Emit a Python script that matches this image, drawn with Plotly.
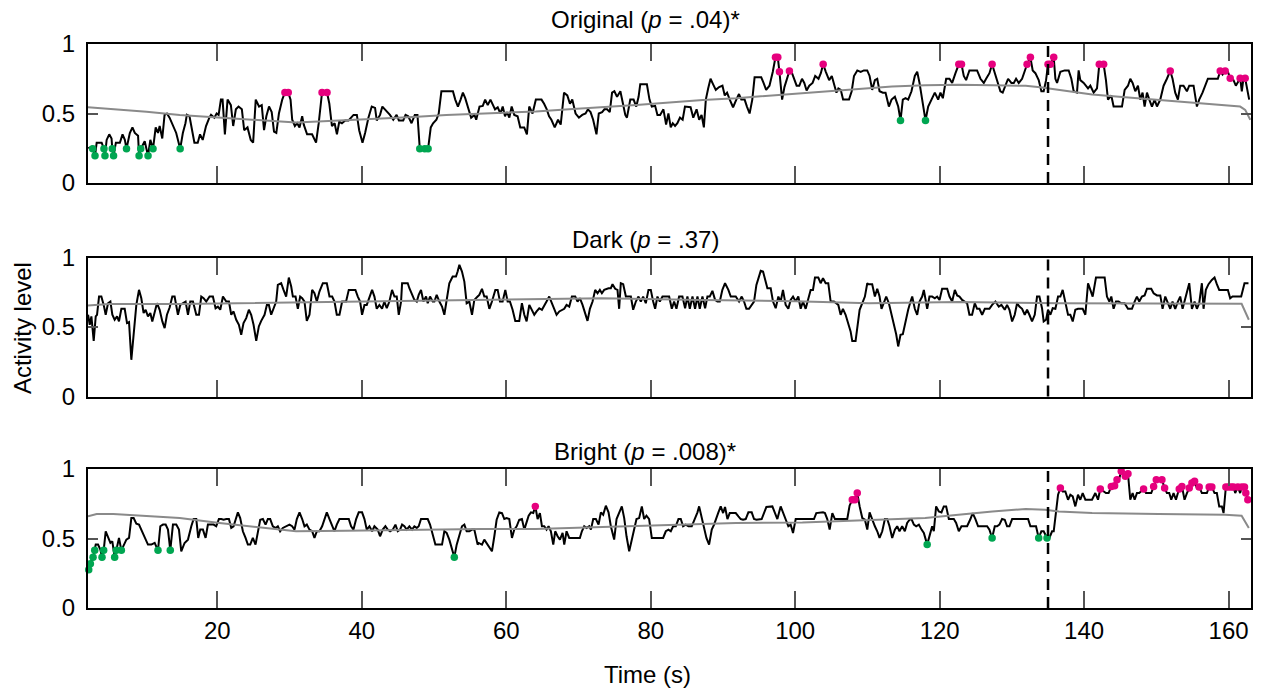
import plotly.graph_objects as go

FONT = "Liberation Sans, Arial, Helvetica, sans-serif"
TRACE_COLOR = "#000000"
TREND_COLOR = "#8a8a8a"
HIGH_COLOR = "#e6007e"
LOW_COLOR = "#00a651"

switch_time = 135
x_ticks = [20, 40, 60, 80, 100, 120, 140, 160]
y_ticks = [0, 0.5, 1]
y_tick_text = ["0", "0.5", "1"]

# ---------------- Original ----------------
orig_t = [2.15, 2.61, 2.75, 3.07, 3.30, 3.99, 4.31, 4.45, 4.68, 5.04, 5.36, 5.46, 5.64, 5.96, 6.51, 6.88, 7.20, 7.43, 7.89, 8.25,
          8.58, 9.03, 9.17, 9.40, 9.95, 10.41, 10.73, 11.10, 11.47, 11.79, 12.02, 12.38, 12.70, 13.03, 13.39, 13.85, 14.31, 14.86, 15.23, 15.59,
          15.78, 16.15, 16.60, 16.83, 17.29, 17.61, 17.98, 18.44, 18.90, 19.13, 19.59, 19.91, 20.18, 20.50, 20.73, 21.05, 21.42, 21.88, 22.20, 22.57,
          22.94, 23.40, 23.72, 24.18, 24.63, 24.96, 25.32, 25.78, 26.15, 26.47, 26.79, 27.16, 27.53, 27.85, 28.17, 28.53, 28.99, 29.36, 29.82, 30.14,
          30.37, 30.74, 31.06, 31.38, 31.75, 31.97, 32.43, 33.12, 33.67, 34.04, 34.50, 35.19, 35.51, 35.87, 36.24, 36.56, 36.88, 37.25, 37.71, 38.17,
          38.86, 39.32, 39.64, 40.10, 40.46, 40.92, 41.38, 41.84, 42.07, 42.53, 42.85, 43.22, 43.68, 43.90, 44.36, 44.82, 45.14, 45.74, 46.06, 46.43,
          46.89, 47.34, 47.71, 48.03, 48.72, 49.18, 49.55, 49.87, 50.33, 50.65, 51.02, 51.47, 52.16, 52.62, 52.94, 53.31, 53.68, 54.00, 54.32, 54.69,
          55.14, 55.60, 55.84, 56.30, 56.75, 57.08, 57.44, 57.81, 58.13, 58.45, 58.82, 59.19, 59.51, 59.83, 60.10, 60.43, 60.75, 61.11, 61.57, 61.94,
          62.49, 62.86, 63.18, 63.64, 64.10, 64.55, 64.88, 65.24, 65.61, 65.93, 66.25, 66.71, 67.17, 67.54, 68.00, 68.45, 68.82, 69.14, 69.60, 70.06,
          70.52, 70.98, 71.30, 71.67, 72.03, 72.49, 72.81, 73.27, 73.59, 73.96, 74.33, 74.65, 74.97, 75.34, 75.80, 76.16, 76.48, 76.71, 77.17, 77.63,
          78.00, 78.32, 78.55, 79.01, 79.47, 79.83, 80.15, 80.61, 80.93, 81.30, 81.76, 82.13, 82.45, 82.77, 83.05, 83.37, 83.69, 84.05, 84.42, 84.74,
          85.06, 85.52, 85.89, 86.35, 86.71, 87.04, 87.36, 87.63, 87.95, 88.28, 88.64, 89.01, 89.47, 89.93, 90.25, 90.57, 90.94, 91.40, 91.85, 92.22,
          92.54, 93.00, 93.32, 93.69, 94.06, 94.38, 94.84, 95.30, 95.62, 95.98, 96.44, 96.90, 97.27, 97.59, 97.82, 98.19, 98.51, 98.83, 99.20, 99.56,
          99.88, 100.20, 100.57, 100.94, 101.26, 101.58, 101.95, 102.41, 102.77, 103.23, 103.55, 103.87, 104.24, 104.70, 105.07, 105.39, 105.71, 105.98, 106.31, 106.63,
          107.00, 107.45, 107.82, 108.14, 108.60, 109.06, 109.51, 109.97, 110.30, 110.66, 111.03, 111.36, 111.68, 112.14, 112.51, 112.97, 113.34, 113.80, 114.26, 114.58,
          114.90, 115.27, 115.64, 116.10, 116.56, 116.89, 117.21, 117.58, 118.04, 118.41, 118.87, 119.33, 119.79, 120.11, 120.44, 120.90, 121.36, 121.73, 122.19, 122.65,
          123.02, 123.34, 123.66, 124.12, 124.72, 125.18, 125.65, 126.11, 126.43, 126.89, 127.26, 127.63, 128.09, 128.41, 128.73, 129.10, 129.47, 129.93, 130.26, 130.58,
          130.95, 131.41, 131.73, 132.10, 132.56, 132.88, 133.25, 133.71, 134.08, 134.40, 134.73, 135.00, 135.33, 135.79, 136.02, 136.25, 136.71, 137.31, 137.86, 138.23,
          138.55, 139.01, 139.24, 139.47, 139.94, 140.54, 140.86, 141.32, 141.78, 142.10, 142.70, 143.02, 143.30, 143.76, 144.08, 144.55, 145.24, 145.61, 146.07, 146.39,
          146.71, 147.08, 147.45, 147.77, 148.09, 148.37, 148.70, 149.02, 149.39, 149.76, 150.08, 150.54, 151.00, 151.46, 151.92, 152.24, 152.61, 152.98, 153.30, 153.76,
          154.23, 154.55, 155.15, 155.61, 155.93, 156.39, 156.76, 157.13, 157.91, 158.51, 158.84, 159.16, 159.53, 159.90, 160.22, 160.68, 161.00, 161.28, 161.60, 161.83,
          162.06, 162.29, 162.52, 162.85]
orig_v = [0.25, 0.26, 0.246, 0.196, 0.29, 0.29, 0.246, 0.196, 0.31, 0.35, 0.32, 0.246, 0.196, 0.29, 0.29, 0.35, 0.31, 0.246, 0.36, 0.40,
          0.36, 0.34, 0.196, 0.246, 0.30, 0.196, 0.31, 0.246, 0.40, 0.36, 0.41, 0.32, 0.49, 0.50, 0.47, 0.41, 0.36, 0.246, 0.36, 0.43,
          0.49, 0.48, 0.37, 0.29, 0.29, 0.35, 0.31, 0.41, 0.47, 0.49, 0.47, 0.50, 0.49, 0.60, 0.60, 0.35, 0.60, 0.56, 0.41, 0.53,
          0.55, 0.53, 0.38, 0.40, 0.31, 0.29, 0.60, 0.55, 0.56, 0.38, 0.48, 0.55, 0.51, 0.37, 0.36, 0.50, 0.60, 0.651, 0.651, 0.60,
          0.455, 0.41, 0.43, 0.40, 0.48, 0.42, 0.35, 0.35, 0.29, 0.43, 0.651, 0.651, 0.57, 0.41, 0.43, 0.35, 0.44, 0.43, 0.45, 0.45,
          0.49, 0.49, 0.38, 0.29, 0.36, 0.47, 0.55, 0.54, 0.45, 0.49, 0.55, 0.53, 0.50, 0.49, 0.455, 0.49, 0.45, 0.45, 0.49, 0.48,
          0.43, 0.49, 0.49, 0.246, 0.246, 0.246, 0.40, 0.43, 0.455, 0.50, 0.66, 0.66, 0.66, 0.66, 0.60, 0.55, 0.60, 0.65, 0.61, 0.55,
          0.47, 0.49, 0.455, 0.55, 0.555, 0.60, 0.56, 0.60, 0.56, 0.53, 0.545, 0.50, 0.55, 0.48, 0.51, 0.47, 0.55, 0.49, 0.48, 0.40,
          0.40, 0.35, 0.55, 0.50, 0.60, 0.60, 0.60, 0.57, 0.53, 0.48, 0.455, 0.40, 0.455, 0.42, 0.65, 0.63, 0.57, 0.60, 0.50, 0.47,
          0.49, 0.50, 0.53, 0.51, 0.455, 0.35, 0.50, 0.51, 0.53, 0.53, 0.51, 0.65, 0.66, 0.62, 0.66, 0.57, 0.49, 0.47, 0.60, 0.60,
          0.55, 0.62, 0.71, 0.71, 0.71, 0.60, 0.55, 0.555, 0.49, 0.49, 0.53, 0.42, 0.50, 0.40, 0.43, 0.41, 0.43, 0.47, 0.455, 0.55,
          0.55, 0.545, 0.47, 0.53, 0.455, 0.49, 0.40, 0.60, 0.68, 0.75, 0.71, 0.67, 0.69, 0.70, 0.63, 0.65, 0.60, 0.545, 0.60, 0.64,
          0.60, 0.60, 0.55, 0.50, 0.60, 0.76, 0.76, 0.76, 0.72, 0.67, 0.70, 0.80, 0.904, 0.904, 0.80, 0.60, 0.69, 0.74, 0.806, 0.79,
          0.74, 0.70, 0.70, 0.75, 0.72, 0.665, 0.70, 0.72, 0.77, 0.75, 0.79, 0.854, 0.80, 0.74, 0.77, 0.70, 0.65, 0.68, 0.67, 0.60,
          0.60, 0.60, 0.66, 0.77, 0.81, 0.80, 0.81, 0.81, 0.77, 0.67, 0.74, 0.75, 0.66, 0.65, 0.65, 0.55, 0.60, 0.62, 0.55, 0.45,
          0.60, 0.61, 0.60, 0.66, 0.77, 0.80, 0.72, 0.60, 0.45, 0.55, 0.60, 0.65, 0.60, 0.65, 0.61, 0.75, 0.75, 0.72, 0.79, 0.854,
          0.854, 0.77, 0.74, 0.81, 0.81, 0.81, 0.75, 0.72, 0.75, 0.79, 0.854, 0.79, 0.70, 0.66, 0.65, 0.70, 0.75, 0.72, 0.72, 0.75,
          0.72, 0.75, 0.80, 0.854, 0.904, 0.81, 0.79, 0.74, 0.66, 0.66, 0.74, 0.854, 0.854, 0.904, 0.75, 0.72, 0.80, 0.81, 0.81, 0.75,
          0.66, 0.65, 0.81, 0.74, 0.72, 0.68, 0.70, 0.65, 0.68, 0.854, 0.854, 0.74, 0.60, 0.63, 0.55, 0.55, 0.55, 0.67, 0.70, 0.75,
          0.72, 0.66, 0.70, 0.60, 0.65, 0.55, 0.65, 0.60, 0.55, 0.60, 0.55, 0.60, 0.70, 0.75, 0.806, 0.75, 0.65, 0.60, 0.70, 0.70,
          0.66, 0.70, 0.70, 0.55, 0.60, 0.65, 0.70, 0.75, 0.75, 0.75, 0.806, 0.78, 0.806, 0.80, 0.754, 0.74, 0.70, 0.73, 0.754, 0.66,
          0.754, 0.754, 0.69, 0.60]
orig_trend_t = [2.1, 5.6, 10.2, 14.8, 19.4, 24.0, 28.6, 30.9, 33.2, 37.8, 42.4, 47.1, 51.7, 56.3, 59.5, 64.1, 68.7, 73.3, 78.0, 82.6,
                87.2, 91.8, 96.4, 101.0, 105.6, 110.2, 113.4, 118.0, 122.6, 127.3, 131.9, 133.9, 136.5, 141.1, 145.7, 150.3, 154.9, 159.5, 161.6, 162.3,
                163.0]
orig_trend_v = [0.545, 0.533, 0.512, 0.490, 0.474, 0.459, 0.443, 0.435, 0.440, 0.450, 0.462, 0.474, 0.490, 0.497, 0.505, 0.514, 0.531, 0.545, 0.562, 0.579,
                0.598, 0.610, 0.629, 0.646, 0.665, 0.682, 0.694, 0.703, 0.706, 0.703, 0.699, 0.689, 0.670, 0.636, 0.617, 0.598, 0.574, 0.560, 0.550, 0.526,
                0.455]
orig_high_t = [29.36, 29.82, 34.50, 35.19, 97.27, 97.59, 97.82, 99.20, 103.87, 122.65, 123.02, 127.26, 132.10, 132.56, 135.00, 135.33, 135.79,
               142.10, 142.70, 151.92, 158.84, 159.53, 160.22, 161.60, 162.29]
orig_high_v = [0.651, 0.651, 0.651, 0.651, 0.904, 0.904, 0.80, 0.806, 0.854, 0.854, 0.854, 0.854, 0.854, 0.904, 0.854, 0.854, 0.904,
               0.854, 0.854, 0.806, 0.806, 0.806, 0.754, 0.754, 0.754]
orig_low_t = [2.75, 3.07, 4.31, 4.45, 5.46, 5.64, 7.43, 9.17, 9.40, 10.41, 11.10, 14.86, 48.03, 48.72, 49.18, 114.58, 118.04]
orig_low_v = [0.246, 0.196, 0.246, 0.196, 0.246, 0.196, 0.246, 0.196, 0.246, 0.196, 0.246, 0.246, 0.246, 0.246, 0.246, 0.45, 0.45]

# ---------------- Dark ----------------
dark_t = [2.11, 2.34, 2.57, 2.89, 3.17, 3.35, 3.63, 3.95, 4.27, 4.55, 4.87, 5.20, 5.47, 5.79, 6.12, 6.39, 6.72, 7.18, 7.50, 7.78,
          8.10, 8.42, 8.79, 9.16, 9.48, 9.80, 10.08, 10.40, 10.73, 11.00, 11.33, 11.65, 12.02, 12.39, 12.71, 13.03, 13.40, 13.77, 14.09, 14.55,
          14.87, 15.24, 15.61, 15.94, 16.26, 16.63, 17.09, 17.46, 17.78, 18.10, 18.47, 18.93, 19.39, 19.76, 20.08, 20.41, 20.78, 21.24, 21.61, 21.93,
          22.25, 22.62, 22.99, 23.31, 23.63, 24.00, 24.37, 24.69, 25.02, 25.39, 25.75, 26.08, 26.54, 26.86, 27.14, 27.46, 27.78, 28.15, 28.38, 28.84,
          29.17, 29.53, 29.90, 30.23, 30.46, 30.83, 31.15, 31.47, 31.75, 32.07, 32.39, 32.76, 33.13, 33.45, 33.78, 34.14, 34.61, 35.16, 35.53, 35.90,
          36.22, 36.54, 36.91, 37.28, 37.83, 38.20, 38.75, 39.12, 39.45, 39.77, 40.04, 40.37, 40.69, 41.06, 41.43, 41.75, 42.07, 42.44, 42.81, 43.13,
          43.46, 43.82, 44.19, 44.52, 44.84, 45.12, 45.44, 45.58, 45.90, 46.36, 46.59, 46.96, 47.28, 47.61, 47.88, 48.20, 48.53, 48.90, 49.13, 49.45,
          49.82, 50.05, 50.37, 50.74, 51.11, 51.43, 51.75, 52.12, 52.58, 53.04, 53.27, 53.51, 53.87, 54.20, 54.52, 54.89, 55.26, 55.58, 56.04, 56.27,
          56.64, 56.96, 57.29, 57.66, 58.02, 58.49, 58.81, 59.13, 59.50, 59.87, 60.19, 60.51, 60.88, 61.25, 61.80, 62.17, 62.50, 62.82, 63.19, 63.56,
          63.88, 64.20, 64.57, 64.94, 65.26, 65.58, 65.95, 66.32, 66.65, 66.97, 67.34, 67.71, 68.03, 68.35, 68.72, 69.09, 69.55, 69.87, 70.19, 70.56,
          70.93, 71.25, 71.58, 71.95, 72.31, 72.64, 72.96, 73.24, 73.56, 73.88, 74.16, 74.48, 74.71, 75.08, 75.40, 75.63, 75.86, 76.19, 76.56, 76.92,
          77.25, 77.57, 77.94, 78.31, 78.63, 78.95, 79.32, 79.69, 80.01, 80.34, 80.61, 80.93, 81.26, 81.63, 82.09, 82.55, 82.92, 83.24, 83.56, 83.93,
          84.39, 84.76, 85.08, 85.41, 85.78, 86.14, 86.47, 86.79, 87.16, 87.53, 87.85, 88.17, 88.54, 88.91, 89.23, 89.56, 89.92, 90.29, 90.75, 91.08,
          91.40, 91.77, 92.23, 92.60, 92.92, 93.24, 93.61, 93.98, 94.30, 94.63, 94.90, 95.23, 95.55, 95.83, 96.15, 96.61, 96.93, 97.30, 97.67, 97.99,
          98.31, 98.68, 99.05, 99.37, 99.70, 100.07, 100.43, 100.76, 101.08, 101.45, 101.82, 102.14, 102.46, 102.74, 103.20, 103.52, 103.85, 104.22, 104.58, 104.91,
          105.37, 105.97, 106.29, 106.61, 106.98, 107.35, 107.67, 107.90, 108.36, 108.59, 108.92, 109.29, 109.65, 109.98, 110.11, 110.66, 111.03, 111.36, 111.68, 111.95,
          112.28, 112.60, 112.97, 113.34, 113.66, 113.98, 114.26, 114.58, 114.90, 115.27, 115.64, 115.97, 116.20, 116.56, 116.89, 117.21, 117.58, 117.81, 118.04, 118.27,
          118.59, 118.96, 119.33, 119.65, 119.98, 120.34, 121.04, 121.36, 121.73, 122.10, 122.42, 122.74, 123.11, 123.48, 123.80, 124.12, 124.49, 124.86, 125.18, 125.51,
          125.88, 126.25, 126.57, 126.89, 127.26, 127.72, 128.18, 128.55, 129.01, 129.33, 129.66, 130.03, 130.39, 130.72, 131.04, 131.41, 131.78, 132.10, 132.42, 132.79,
          133.16, 133.48, 133.81, 134.17, 134.40, 134.73, 135.00, 135.33, 135.65, 136.02, 136.39, 136.71, 137.03, 137.40, 137.77, 138.09, 138.42, 138.78, 139.15, 139.47,
          139.80, 140.17, 140.54, 140.86, 141.18, 141.64, 142.24, 142.84, 143.16, 143.49, 143.76, 144.08, 144.41, 144.77, 145.14, 145.60, 146.07, 146.62, 146.99, 147.31,
          147.63, 148.00, 148.37, 148.70, 149.29, 149.62, 150.08, 150.54, 150.86, 151.23, 151.60, 151.92, 152.24, 152.61, 152.98, 153.30, 153.63, 153.90, 154.23, 154.55,
          154.92, 155.29, 155.61, 155.93, 156.30, 156.53, 156.85, 157.22, 157.68, 158.05, 158.37, 158.70, 159.07, 159.53, 159.90, 160.22, 160.54, 160.91, 161.74, 162.20,
          162.75]
dark_v = [0.588, 0.516, 0.576, 0.400, 0.576, 0.588, 0.719, 0.719, 0.659, 0.588, 0.671, 0.683, 0.588, 0.552, 0.576, 0.540, 0.631, 0.631, 0.528, 0.535,
          0.264, 0.468, 0.659, 0.767, 0.707, 0.600, 0.624, 0.576, 0.600, 0.540, 0.612, 0.671, 0.624, 0.540, 0.492, 0.588, 0.640, 0.719, 0.719, 0.588,
          0.659, 0.671, 0.683, 0.588, 0.683, 0.683, 0.588, 0.588, 0.719, 0.707, 0.683, 0.719, 0.719, 0.635, 0.647, 0.624, 0.719, 0.683, 0.683, 0.588,
          0.612, 0.552, 0.516, 0.444, 0.528, 0.564, 0.624, 0.588, 0.516, 0.400, 0.504, 0.544, 0.588, 0.659, 0.659, 0.588, 0.640, 0.683, 0.803, 0.815,
          0.767, 0.719, 0.856, 0.791, 0.719, 0.719, 0.631, 0.719, 0.707, 0.683, 0.544, 0.588, 0.767, 0.743, 0.683, 0.755, 0.815, 0.815, 0.719, 0.719,
          0.683, 0.588, 0.588, 0.683, 0.683, 0.767, 0.767, 0.767, 0.719, 0.683, 0.588, 0.659, 0.659, 0.719, 0.767, 0.719, 0.631, 0.659, 0.631, 0.683,
          0.635, 0.683, 0.767, 0.719, 0.719, 0.588, 0.683, 0.815, 0.815, 0.815, 0.779, 0.731, 0.695, 0.683, 0.731, 0.767, 0.683, 0.719, 0.671, 0.719,
          0.683, 0.683, 0.731, 0.683, 0.647, 0.588, 0.683, 0.815, 0.863, 0.863, 0.899, 0.947, 0.899, 0.827, 0.671, 0.683, 0.588, 0.695, 0.719, 0.731,
          0.775, 0.719, 0.719, 0.631, 0.683, 0.767, 0.767, 0.683, 0.683, 0.767, 0.683, 0.683, 0.624, 0.544, 0.544, 0.671, 0.588, 0.540, 0.659, 0.624,
          0.588, 0.612, 0.635, 0.624, 0.659, 0.683, 0.719, 0.671, 0.635, 0.588, 0.612, 0.624, 0.631, 0.659, 0.647, 0.719, 0.719, 0.683, 0.707, 0.659,
          0.588, 0.544, 0.631, 0.683, 0.767, 0.743, 0.767, 0.743, 0.767, 0.775, 0.779, 0.779, 0.808, 0.775, 0.767, 0.631, 0.815, 0.808, 0.719, 0.719,
          0.719, 0.624, 0.683, 0.719, 0.683, 0.719, 0.671, 0.767, 0.767, 0.683, 0.631, 0.719, 0.683, 0.719, 0.719, 0.719, 0.631, 0.683, 0.631, 0.719,
          0.719, 0.635, 0.719, 0.631, 0.719, 0.631, 0.719, 0.631, 0.719, 0.635, 0.719, 0.719, 0.760, 0.695, 0.683, 0.683, 0.767, 0.815, 0.767, 0.719,
          0.719, 0.719, 0.683, 0.719, 0.683, 0.631, 0.631, 0.659, 0.683, 0.803, 0.851, 0.904, 0.899, 0.851, 0.779, 0.779, 0.683, 0.635, 0.719, 0.683,
          0.767, 0.659, 0.631, 0.695, 0.719, 0.683, 0.719, 0.631, 0.683, 0.631, 0.695, 0.767, 0.767, 0.856, 0.856, 0.815, 0.851, 0.815, 0.815, 0.683,
          0.683, 0.659, 0.588, 0.631, 0.588, 0.528, 0.468, 0.400, 0.400, 0.492, 0.624, 0.671, 0.719, 0.815, 0.808, 0.808, 0.719, 0.775, 0.719, 0.631,
          0.683, 0.719, 0.671, 0.588, 0.528, 0.448, 0.360, 0.444, 0.448, 0.540, 0.624, 0.683, 0.719, 0.631, 0.588, 0.683, 0.719, 0.767, 0.683, 0.631,
          0.719, 0.719, 0.707, 0.719, 0.695, 0.775, 0.775, 0.719, 0.683, 0.767, 0.727, 0.719, 0.695, 0.683, 0.671, 0.588, 0.588, 0.671, 0.631, 0.631,
          0.588, 0.631, 0.631, 0.631, 0.659, 0.683, 0.647, 0.659, 0.624, 0.659, 0.624, 0.540, 0.588, 0.671, 0.647, 0.631, 0.588, 0.624, 0.588, 0.540,
          0.588, 0.719, 0.719, 0.635, 0.540, 0.552, 0.624, 0.588, 0.635, 0.631, 0.719, 0.719, 0.767, 0.683, 0.588, 0.588, 0.540, 0.624, 0.631, 0.631,
          0.631, 0.588, 0.815, 0.767, 0.719, 0.856, 0.856, 0.856, 0.719, 0.683, 0.719, 0.631, 0.683, 0.683, 0.671, 0.671, 0.631, 0.631, 0.683, 0.719,
          0.683, 0.719, 0.727, 0.775, 0.775, 0.743, 0.727, 0.727, 0.631, 0.719, 0.671, 0.631, 0.683, 0.631, 0.683, 0.719, 0.631, 0.683, 0.767, 0.815,
          0.631, 0.683, 0.631, 0.671, 0.815, 0.631, 0.767, 0.808, 0.839, 0.856, 0.808, 0.767, 0.767, 0.767, 0.767, 0.707, 0.719, 0.719, 0.719, 0.815,
          0.815]
dark_trend_t = [2.1, 5.0, 15.0, 30.0, 45.0, 56.3, 73.3, 87.2, 100.0, 110.2, 122.6, 136.5, 150.3, 161.8, 162.8]
dark_trend_v = [0.655, 0.665, 0.665, 0.675, 0.685, 0.695, 0.707, 0.695, 0.685, 0.671, 0.679, 0.671, 0.667, 0.667, 0.552]

# ---------------- Bright ----------------
bright_t = [2.20, 2.43, 2.80, 3.03, 3.17, 3.49, 3.81, 4.04, 4.27, 4.55, 4.87, 5.20, 5.47, 5.79, 6.02, 6.39, 6.72, 7.04, 7.41, 7.78,
            8.10, 8.42, 8.79, 9.16, 9.48, 9.94, 10.40, 10.87, 11.33, 11.79, 12.11, 12.48, 12.85, 13.17, 13.49, 13.86, 14.32, 14.69, 15.01, 15.47,
            15.94, 16.40, 16.72, 17.09, 17.36, 17.64, 18.01, 18.38, 18.70, 19.16, 19.49, 19.85, 20.22, 20.55, 20.87, 21.24, 21.61, 21.93, 22.25, 22.53,
            22.85, 23.17, 23.54, 23.91, 24.23, 24.56, 24.92, 25.29, 25.62, 25.94, 26.31, 26.68, 27.00, 27.32, 27.69, 28.06, 28.38, 28.70, 29.07, 29.53,
            29.99, 30.36, 30.69, 31.01, 31.38, 31.75, 32.07, 32.39, 32.76, 33.13, 33.45, 33.78, 34.14, 34.51, 34.84, 35.16, 35.53, 35.90, 36.22, 36.54,
            36.91, 37.37, 37.83, 38.20, 38.52, 38.85, 39.22, 39.58, 40.04, 40.37, 40.69, 41.06, 41.43, 41.75, 42.21, 42.53, 42.90, 43.27, 43.59, 43.92,
            44.29, 44.66, 44.98, 45.30, 45.58, 45.90, 46.22, 46.59, 46.96, 47.28, 47.61, 47.88, 48.20, 48.66, 49.13, 49.45, 49.73, 50.19, 50.65, 51.11,
            51.43, 51.75, 52.12, 52.49, 52.81, 53.14, 53.51, 53.87, 54.20, 54.52, 54.89, 55.26, 55.58, 56.04, 56.18, 56.64, 56.96, 57.42, 57.75, 58.02,
            58.35, 58.67, 59.04, 59.41, 59.73, 60.05, 60.42, 60.79, 61.11, 61.44, 61.80, 62.17, 62.50, 62.73, 63.10, 63.42, 63.74, 64.02, 64.34, 64.66,
            64.94, 65.26, 65.58, 65.86, 66.18, 66.51, 66.78, 67.11, 67.43, 67.80, 68.03, 68.35, 68.72, 69.55, 70.19, 70.47, 70.79, 71.12, 71.49, 71.72,
            72.04, 72.41, 72.78, 73.10, 73.42, 73.79, 74.16, 74.48, 74.94, 75.27, 75.63, 76.00, 76.33, 76.65, 77.02, 77.39, 77.71, 78.03, 78.40, 78.77,
            79.09, 79.41, 79.78, 80.15, 80.70, 81.26, 81.72, 82.09, 82.46, 82.78, 83.10, 83.47, 83.84, 84.16, 84.48, 84.85, 85.22, 85.68, 86.14, 86.47,
            86.70, 87.07, 87.39, 87.71, 88.08, 88.45, 88.77, 89.09, 89.37, 89.69, 90.02, 90.29, 90.62, 90.94, 91.77, 92.14, 92.46, 92.78, 93.15, 93.52,
            93.98, 94.30, 94.63, 95.36, 95.69, 96.01, 96.84, 97.21, 97.53, 97.99, 98.31, 98.68, 99.05, 99.37, 99.70, 100.07, 102.60, 102.92, 103.38, 103.85,
            104.12, 104.44, 104.77, 105.14, 105.50, 107.21, 107.53, 107.90, 108.27, 108.59, 108.92, 109.29, 109.65, 109.98, 110.30, 110.66, 111.03, 111.36, 111.68, 112.05,
            112.42, 112.74, 113.06, 113.43, 113.80, 114.12, 114.44, 114.81, 115.18, 115.50, 115.83, 116.10, 116.43, 116.75, 117.12, 117.49, 117.81, 118.27, 118.59, 118.96,
            119.19, 119.51, 119.88, 120.25, 120.57, 120.90, 121.27, 121.96, 122.28, 122.65, 123.02, 123.80, 124.26, 124.57, 124.95, 125.32, 126.57, 126.89, 127.26, 127.63,
            127.95, 128.27, 128.64, 129.01, 129.33, 129.66, 130.03, 132.24, 132.56, 133.34, 133.71, 134.08, 134.40, 134.86, 135.19, 135.56, 135.79, 136.11, 136.39, 136.71,
            137.03, 137.40, 137.77, 138.09, 138.42, 138.78, 139.15, 139.47, 139.80, 140.17, 141.09, 141.55, 141.92, 142.24, 142.70, 143.02, 143.39, 143.76, 144.22, 144.55,
            144.87, 145.14, 145.47, 145.70, 146.07, 146.39, 146.71, 146.99, 147.31, 147.63, 148.23, 148.56, 149.29, 149.62, 149.99, 150.31, 150.77, 151.14, 151.46, 151.78,
            152.06, 152.38, 152.71, 152.98, 153.17, 153.54, 153.90, 154.23, 154.55, 154.92, 155.29, 155.61, 155.93, 156.30, 156.99, 157.31, 157.68, 158.05, 158.37, 158.70,
            159.07, 159.30, 159.62, 159.99, 160.36, 160.68, 160.91, 161.28, 161.60, 161.83, 162.20, 162.38, 162.66]
bright_v = [0.276, 0.319, 0.365, 0.415, 0.456, 0.456, 0.420, 0.365, 0.415, 0.552, 0.516, 0.468, 0.480, 0.365, 0.415, 0.504, 0.415, 0.456, 0.492, 0.504,
            0.647, 0.647, 0.607, 0.600, 0.564, 0.504, 0.456, 0.456, 0.468, 0.415, 0.588, 0.600, 0.600, 0.564, 0.415, 0.600, 0.600, 0.564, 0.408, 0.468,
            0.492, 0.588, 0.640, 0.640, 0.504, 0.564, 0.564, 0.504, 0.600, 0.600, 0.600, 0.588, 0.640, 0.640, 0.635, 0.640, 0.640, 0.576, 0.588, 0.635,
            0.688, 0.647, 0.552, 0.504, 0.456, 0.456, 0.504, 0.456, 0.552, 0.635, 0.640, 0.600, 0.640, 0.640, 0.588, 0.576, 0.588, 0.552, 0.576, 0.588,
            0.600, 0.588, 0.564, 0.640, 0.688, 0.640, 0.588, 0.600, 0.564, 0.552, 0.504, 0.552, 0.552, 0.588, 0.647, 0.688, 0.640, 0.588, 0.552, 0.600,
            0.640, 0.640, 0.640, 0.640, 0.588, 0.564, 0.640, 0.688, 0.688, 0.640, 0.564, 0.588, 0.552, 0.588, 0.564, 0.516, 0.564, 0.588, 0.564, 0.552,
            0.564, 0.600, 0.552, 0.564, 0.600, 0.588, 0.564, 0.588, 0.564, 0.588, 0.576, 0.588, 0.640, 0.640, 0.640, 0.600, 0.552, 0.456, 0.456, 0.456,
            0.552, 0.540, 0.492, 0.432, 0.365, 0.456, 0.516, 0.588, 0.600, 0.552, 0.552, 0.564, 0.564, 0.456, 0.468, 0.456, 0.492, 0.456, 0.432, 0.408,
            0.516, 0.635, 0.688, 0.683, 0.640, 0.647, 0.640, 0.504, 0.564, 0.588, 0.635, 0.640, 0.564, 0.600, 0.664, 0.688, 0.683, 0.731, 0.640, 0.683,
            0.588, 0.588, 0.564, 0.588, 0.552, 0.456, 0.552, 0.516, 0.492, 0.540, 0.456, 0.552, 0.504, 0.504, 0.504, 0.552, 0.588, 0.576, 0.588, 0.564,
            0.640, 0.640, 0.600, 0.688, 0.671, 0.736, 0.688, 0.588, 0.492, 0.640, 0.688, 0.731, 0.647, 0.516, 0.408, 0.492, 0.564, 0.640, 0.647, 0.731,
            0.640, 0.664, 0.640, 0.504, 0.504, 0.504, 0.504, 0.552, 0.564, 0.552, 0.588, 0.588, 0.640, 0.640, 0.588, 0.600, 0.588, 0.588, 0.640, 0.688,
            0.731, 0.640, 0.564, 0.504, 0.456, 0.564, 0.600, 0.640, 0.688, 0.731, 0.683, 0.727, 0.640, 0.683, 0.683, 0.659, 0.640, 0.635, 0.640, 0.688,
            0.688, 0.640, 0.635, 0.640, 0.683, 0.727, 0.731, 0.683, 0.640, 0.731, 0.688, 0.640, 0.588, 0.600, 0.540, 0.640, 0.640, 0.683, 0.688, 0.688,
            0.683, 0.640, 0.564, 0.683, 0.640, 0.640, 0.736, 0.779, 0.779, 0.827, 0.731, 0.647, 0.635, 0.564, 0.688, 0.635, 0.588, 0.552, 0.504, 0.552,
            0.640, 0.640, 0.588, 0.504, 0.564, 0.588, 0.552, 0.588, 0.552, 0.612, 0.635, 0.640, 0.600, 0.588, 0.600, 0.564, 0.540, 0.456, 0.516, 0.588,
            0.552, 0.731, 0.695, 0.688, 0.731, 0.731, 0.640, 0.640, 0.612, 0.552, 0.588, 0.588, 0.640, 0.683, 0.640, 0.588, 0.588, 0.564, 0.504, 0.588,
            0.588, 0.600, 0.640, 0.635, 0.588, 0.588, 0.640, 0.640, 0.588, 0.588, 0.504, 0.552, 0.552, 0.504, 0.504, 0.552, 0.552, 0.683, 0.815, 0.863,
            0.839, 0.839, 0.779, 0.815, 0.803, 0.731, 0.815, 0.779, 0.827, 0.779, 0.779, 0.827, 0.779, 0.856, 0.839, 0.827, 0.827, 0.875, 0.880, 0.923,
            0.935, 0.983, 0.959, 0.947, 0.966, 0.779, 0.827, 0.779, 0.827, 0.827, 0.856, 0.827, 0.827, 0.875, 0.923, 0.923, 0.923, 0.863, 0.827, 0.827,
            0.779, 0.827, 0.779, 0.827, 0.856, 0.875, 0.779, 0.827, 0.863, 0.899, 0.911, 0.863, 0.871, 0.827, 0.827, 0.871, 0.871, 0.827, 0.827, 0.731,
            0.731, 0.683, 0.871, 0.871, 0.871, 0.871, 0.827, 0.871, 0.827, 0.871, 0.871, 0.827, 0.779]
bright_trend_t = [2.1, 3.3, 5.6, 10.2, 14.8, 20.3, 26.3, 30.9, 37.8, 47.1, 56.3, 64.1, 73.3, 82.6, 91.8, 101.0, 110.2, 118.0, 122.6, 127.3,
                  131.9, 134.6, 136.5, 141.1, 150.3, 159.5, 161.8, 162.8]
bright_trend_v = [0.659, 0.676, 0.676, 0.664, 0.647, 0.612, 0.576, 0.552, 0.556, 0.564, 0.568, 0.568, 0.583, 0.595, 0.612, 0.616, 0.631, 0.647, 0.671, 0.695,
                  0.712, 0.707, 0.695, 0.683, 0.676, 0.671, 0.664, 0.576]
bright_high_t = [64.02, 107.90, 108.27, 108.59, 136.71, 142.24, 143.76, 144.22, 144.55, 145.14, 145.70, 146.07, 148.23, 149.62, 149.99, 150.77,
                 151.14, 153.17, 153.54, 154.55, 154.92, 155.29, 155.93, 157.31, 157.68, 159.62, 159.99, 160.36, 160.68, 161.28, 161.83, 162.20,
                 162.38, 162.66]
bright_high_v = [0.731, 0.779, 0.779, 0.827, 0.863, 0.856, 0.875, 0.880, 0.923, 0.983, 0.947, 0.966, 0.856, 0.875, 0.923, 0.923,
                 0.863, 0.856, 0.875, 0.863, 0.899, 0.911, 0.871, 0.871, 0.871, 0.871, 0.871, 0.871, 0.871, 0.871, 0.871, 0.871,
                 0.827, 0.779]
bright_low_t = [2.20, 2.43, 2.80, 3.03, 4.04, 4.27, 5.79, 6.02, 6.72, 11.79, 13.49, 52.81, 118.27, 127.26, 133.71, 134.86]
bright_low_v = [0.276, 0.319, 0.365, 0.415, 0.365, 0.415, 0.365, 0.415, 0.415, 0.415, 0.415, 0.365, 0.456, 0.504, 0.504, 0.504]

panels = [
    dict(title="Original (<i>p</i> = .04)*", t=orig_t, v=orig_v, tt=orig_trend_t, tv=orig_trend_v,
         ht=orig_high_t, hv=orig_high_v, lt=orig_low_t, lv=orig_low_v),
    dict(title="Dark (<i>p</i> = .37)", t=dark_t, v=dark_v, tt=dark_trend_t, tv=dark_trend_v,
         ht=[], hv=[], lt=[], lv=[]),
    dict(title="Bright (<i>p</i> = .008)*", t=bright_t, v=bright_v, tt=bright_trend_t, tv=bright_trend_v,
         ht=bright_high_t, hv=bright_high_v, lt=bright_low_t, lv=bright_low_v),
]

# Figure geometry (pixels)
W, H = 1261, 690
ML, MR, MT, MB = 88, 8, 44, 82
plot_h = H - MT - MB
panel_px = [(44.0, 183.0), (257.5, 396.5), (469.0, 608.0)]
title_px = [20.0, 240.0, 451.0]


def py(px):
    """Pixel row -> paper y."""
    return (H - MB - px) / plot_h


def dom(px):
    """Pixel row -> paper y, clamped to the plotting area."""
    return min(1.0, max(0.0, py(px)))


def px_x(px):
    """Pixel column -> paper x."""
    return (px - ML) / (W - ML - MR)


fig = go.Figure()
layout = dict(
    width=W, height=H,
    margin=dict(l=ML, r=MR, t=MT, b=MB, pad=0),
    plot_bgcolor="white", paper_bgcolor="white",
    showlegend=False,
    font=dict(family=FONT, size=24, color="black"),
    shapes=[], annotations=[],
)

for i, p in enumerate(panels, start=1):
    xa = "x" if i == 1 else f"x{i}"
    ya = "y" if i == 1 else f"y{i}"
    fig.add_trace(go.Scatter(x=p["t"], y=p["v"], mode="lines", xaxis=xa, yaxis=ya,
                             line=dict(color=TRACE_COLOR, width=2)))
    fig.add_trace(go.Scatter(x=p["tt"], y=p["tv"], mode="lines", xaxis=xa, yaxis=ya,
                             line=dict(color=TREND_COLOR, width=2)))
    if p["ht"]:
        fig.add_trace(go.Scatter(x=p["ht"], y=p["hv"], mode="markers", xaxis=xa, yaxis=ya,
                                 cliponaxis=False,
                                 marker=dict(color=HIGH_COLOR, size=7.5, line=dict(width=0))))
    if p["lt"]:
        fig.add_trace(go.Scatter(x=p["lt"], y=p["lv"], mode="markers", xaxis=xa, yaxis=ya,
                                 cliponaxis=False,
                                 marker=dict(color=LOW_COLOR, size=7.5, line=dict(width=0))))

    top, bot = panel_px[i - 1]
    common = dict(showline=True, linecolor="black", linewidth=2, mirror="ticks",
                  ticks="inside", tickwidth=2, tickcolor="#555555",
                  showgrid=False, zeroline=False,
                  tickfont=dict(family=FONT, size=24, color="black"))
    layout["xaxis" if i == 1 else f"xaxis{i}"] = dict(
        domain=[0, 1], anchor=ya, range=[2.1, 163.1], tickmode="array", tickvals=x_ticks,
        ticklen=17, showticklabels=(i == 3), ticklabelstandoff=0, **common)
    layout["yaxis" if i == 1 else f"yaxis{i}"] = dict(
        domain=[dom(bot), dom(top)], anchor=xa, range=[0, 1], tickmode="array",
        tickvals=y_ticks, ticktext=y_tick_text, ticklen=10, ticklabelstandoff=6, **common)

    layout["shapes"].append(dict(
        type="line", xref=xa, yref=f"{ya} domain", x0=switch_time, x1=switch_time, y0=0, y1=1,
        line=dict(color="black", width=2.5, dash="11px,7px"), layer="above"))

    layout["annotations"].append(dict(
        text=p["title"], xref="paper", yref="paper", x=px_x(646), y=py(title_px[i - 1]),
        xanchor="center", yanchor="middle", showarrow=False,
        font=dict(family=FONT, size=24, color="black")))

layout["annotations"].append(dict(
    text="Time (s)", xref="paper", yref="paper", x=px_x(648), y=py(674),
    xanchor="center", yanchor="middle", showarrow=False,
    font=dict(family=FONT, size=24, color="black")))
layout["annotations"].append(dict(
    text="Activity level", xref="paper", yref="paper", x=px_x(22), y=py(328),
    xanchor="center", yanchor="middle", textangle=-90, showarrow=False,
    font=dict(family=FONT, size=24, color="black")))

fig.update_layout(**layout)
fig.write_html("out.html")
